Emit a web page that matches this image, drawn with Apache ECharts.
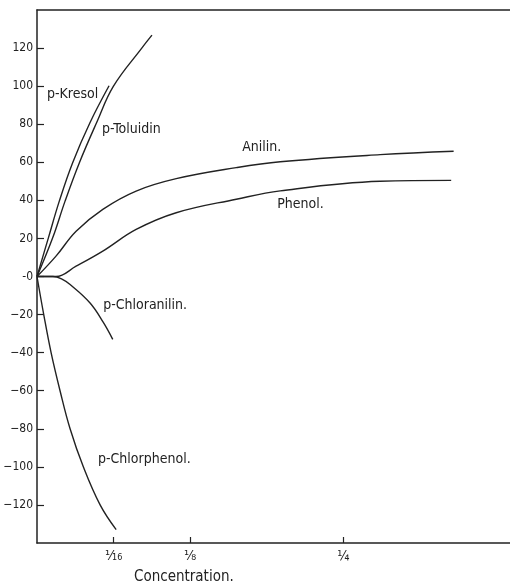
<!DOCTYPE html>
<html><head><meta charset="utf-8">
<script src="https://cdn.jsdelivr.net/npm/echarts@6/dist/echarts.min.js"></script>
<style>html,body{margin:0;padding:0;background:#fff}#c{width:510px;height:587px}</style>
</head><body><div id="c"></div>
<script>
// Data: [concentration, value]
var kresol = [[0,0],[0.0093,20.3],[0.0182,39.6],[0.0291,59.8],[0.0433,80.9],[0.0588,100.2]];
var toluidin = [[0,0],[0.0128,20.3],[0.0229,39.6],[0.0346,59.8],[0.0487,80.9],[0.0624,100],[0.0855,120],[0.0938,126.8]];
var anilin = [[0,0],[0.0155,10.7],[0.0319,23.8],[0.0537,35.3],[0.0809,44.9],[0.1136,51.4],[0.1626,57.2],[0.1985,60.3],[0.28,64],[0.34,65.8]];
var phenol = [[0,0],[0.0155,0],[0.0319,5.4],[0.0537,13.3],[0.0809,24.7],[0.1136,33.5],[0.1626,40.6],[0.1985,45],[0.28,50],[0.338,50.5]];
var chloranilin = [[0,0],[0.013,0],[0.02,-1.2],[0.027,-4.2],[0.0433,-13.9],[0.054,-24],[0.0618,-33]];
var chlorphenol = [[0,0],[0.0055,-20],[0.0115,-40],[0.0188,-60],[0.027,-80],[0.0378,-100],[0.0515,-120],[0.0646,-133]];

var seriesNames = ['p-Kresol','p-Toluidin','Anilin.','Phenol.','p-Chloranilin.','p-Chlorphenol.'];
var seriesData = [kresol, toluidin, anilin, phenol, chloranilin, chlorphenol];
var labelAnchors = [[0.0082,95.8],[0.053,77.4],[0.1675,68],[0.196,38],[0.054,-15],[0.0498,-96]];

var xTickValues = [0.0625, 0.125, 0.25];
var xTickLabels = ['¹⁄₁₆', '⅛', '¼'];
var yTickValues = [120,100,80,60,40,20,0,-20,-40,-60,-80,-100,-120];
var yTickLabels = ['120','100','80','60','40','20','-0','−20','−40','−60','−80','−100','−120'];
var xName = 'Concentration.';

var FONT = '"DejaVu Sans Condensed","Liberation Sans Narrow",sans-serif';
var INK = '#222';

var chart = echarts.init(document.getElementById('c'));
var series = seriesData.map(function (d, i) {
  return {
    type: 'line', name: seriesNames[i], data: d,
    smooth: 0.4, showSymbol: false, symbol: 'none',
    lineStyle: { color: INK, width: 1.4 },
    markPoint: {
      symbol: 'circle', symbolSize: 0, animation: false,
      data: [{ coord: labelAnchors[i], name: seriesNames[i] }],
      label: { show: true, position: [0, 0], align: 'left', verticalAlign: 'middle',
        formatter: seriesNames[i], color: INK, fontFamily: FONT, fontSize: 14 }
    }
  };
});

chart.setOption({
  animation: false,
  title: { text: xName, left: 129, top: 565,
    textStyle: { fontFamily: FONT, fontSize: 15, fontWeight: 'normal', color: INK } },
  grid: { left: 37, top: 10, right: 0, bottom: 44 },
  xAxis: [{
    type: 'value', min: 0, max: 0.386, position: 'bottom',
    splitLine: { show: false },
    axisLine: { show: true, onZero: false, lineStyle: { color: INK, width: 1.5 } },
    axisTick: { show: true, inside: true, length: 6, customValues: xTickValues, lineStyle: { color: INK, width: 1.2 } },
    axisLabel: { show: true, customValues: xTickValues, margin: 6,
      formatter: function (v) { var k = xTickValues.indexOf(v); return k >= 0 ? xTickLabels[k] : ''; },
      fontFamily: FONT, fontSize: 14, color: INK }
  }, {
    type: 'value', min: 0, max: 0.386, position: 'top',
    splitLine: { show: false },
    axisLine: { show: true, onZero: false, lineStyle: { color: INK, width: 1.5 } },
    axisTick: { show: false }, axisLabel: { show: false }
  }],
  yAxis: {
    type: 'value', min: -140, max: 140,
    splitLine: { show: false },
    axisLine: { show: true, onZero: false, lineStyle: { color: INK, width: 1.5 } },
    axisTick: { show: true, inside: true, length: 7, customValues: yTickValues, lineStyle: { color: INK, width: 1.2 } },
    axisLabel: { show: true, customValues: yTickValues, margin: 4,
      formatter: function (v) { var k = yTickValues.indexOf(v); return k >= 0 ? yTickLabels[k] : ''; },
      fontFamily: FONT, fontSize: 12, color: INK }
  },
  series: series
});
</script></body></html>
